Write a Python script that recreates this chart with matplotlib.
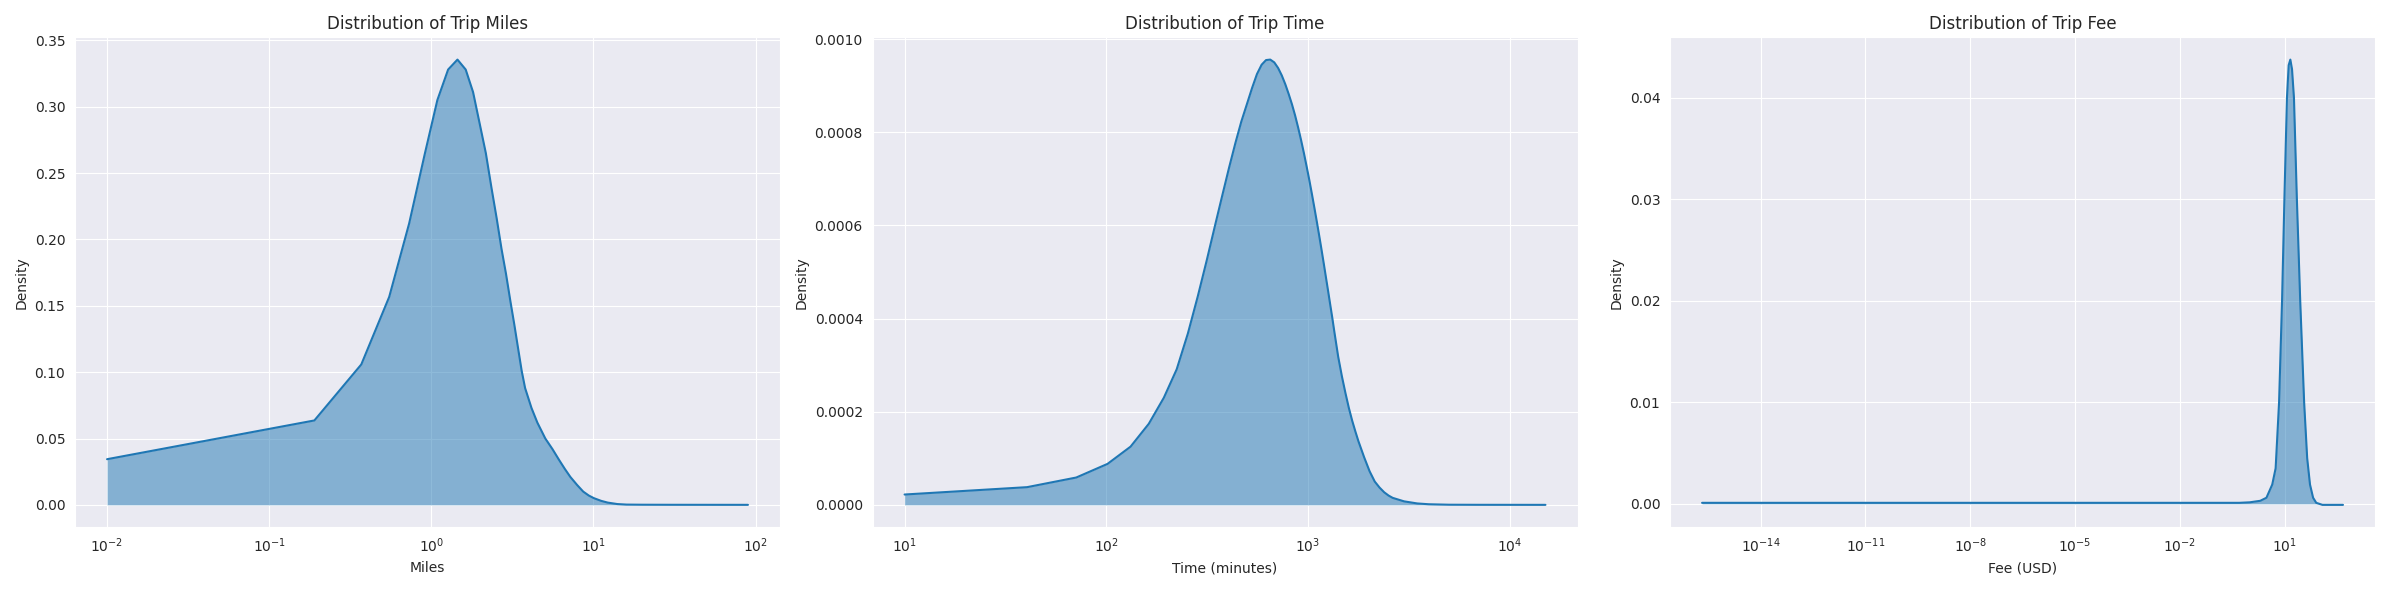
import matplotlib
matplotlib.use("Agg")
import matplotlib.pyplot as plt
import seaborn as sns

# values
miles_x = [0.01, 0.19, 0.37, 0.55, 0.73, 0.91, 1.09, 1.27, 1.45, 1.63, 1.81, 1.99,
           2.17, 2.35, 2.53, 2.71, 2.89, 3.07, 3.25, 3.43, 3.61, 3.79, 4.15, 4.51,
           5.05, 5.59, 6.13, 6.67, 7.21, 7.93, 8.65, 9.37, 10.09, 11.17, 12.25,
           14.05, 16.03, 20.0, 30.0, 50.0, 70.0, 89.8]
miles_y = [0.0344, 0.0636, 0.1058, 0.1567, 0.212, 0.264, 0.305, 0.328, 0.3355, 0.328,
           0.311, 0.287, 0.265, 0.239, 0.216, 0.193, 0.174, 0.154, 0.136, 0.118,
           0.101, 0.088, 0.073, 0.062, 0.050, 0.042, 0.034, 0.027, 0.021, 0.015,
           0.010, 0.007, 0.005, 0.003, 0.0017, 0.0006, 0.0002, 0.0001, 0.00005,
           0.00003, 0.00002, 0.00001]

time_x = [10, 40.5, 71, 101.5, 132, 162.5, 193, 223.5, 254, 284.5, 315, 345.5, 376,
          406.5, 437, 467.5, 498, 528.5, 559, 589.5, 620, 650.5, 681, 711.5, 742,
          772.5, 803, 833.5, 864, 894.5, 925, 955.5, 986, 1016.5, 1047, 1077.5,
          1108, 1138.5, 1169, 1199.5, 1230, 1260.5, 1291, 1321.5, 1352, 1413, 1474,
          1535, 1596, 1657, 1718, 1779, 1901, 2023, 2145, 2267, 2389, 2511, 2633,
          2999, 3487, 3975, 5011, 7000, 10000, 15060]
time_y = [0.0000222, 0.000038, 0.0000587, 0.000088, 0.000125, 0.000174, 0.00023,
          0.000291, 0.000368, 0.000448, 0.000525, 0.000598, 0.000664, 0.000724,
          0.000777, 0.000823, 0.00086, 0.000895, 0.000925, 0.000945, 0.000955,
          0.000956, 0.00095, 0.000938, 0.000922, 0.000903, 0.000882, 0.00086,
          0.000836, 0.00081, 0.000783, 0.000755, 0.000726, 0.000697, 0.000667,
          0.000637, 0.000607, 0.000577, 0.000547, 0.000517, 0.000487, 0.000458,
          0.000429, 0.000401, 0.000372, 0.000318, 0.000276, 0.00024, 0.000208,
          0.000181, 0.000158, 0.000137, 0.000102, 0.000072, 0.00005, 0.000037,
          0.000027, 0.00002, 0.000015, 0.0000075, 0.000003, 0.0000013, 0.0000003,
          0.0000001, 0.00000005, 0.0]

fee_x = [2.1e-16, 1e-2, 0.5, 1.0, 2.0, 3.0, 4.4, 5.5, 6.9, 8.4, 9.8, 11.6, 13.0,
         14.5, 16.2, 18.4, 22.3, 27.8, 36.0, 44.0, 53.0, 65.0, 80.0, 120.0, 200.0,
         465.0]
fee_y = [0.0001, 0.0001, 0.0001, 0.00015, 0.0003, 0.0006, 0.0019, 0.0035, 0.010,
         0.020, 0.030, 0.040, 0.0432, 0.04375, 0.0428, 0.040, 0.030, 0.020, 0.010,
         0.0045, 0.0019, 0.0006, 0.0001, -0.0001, -0.0001, -0.0001]

titles = ['Distribution of Trip Miles', 'Distribution of Trip Time',
          'Distribution of Trip Fee']
xlabels = ['Miles', 'Time (minutes)', 'Fee (USD)']

sns.set_style('darkgrid')

fig, axes = plt.subplots(1, 3, figsize=(23.9, 5.9), dpi=100)
series = [(miles_x, miles_y), (time_x, time_y), (fee_x, fee_y)]

for ax, (xs, ys), title, xlabel in zip(axes, series, titles, xlabels):
    ax.fill_between(xs, ys, color='tab:blue', alpha=0.5, linewidth=0)
    ax.plot(xs, ys, color='tab:blue', linewidth=1.5)
    ax.set_xscale('log')
    ax.set_title(title)
    ax.set_xlabel(xlabel)
    ax.set_ylabel('Density')

plt.tight_layout()
plt.savefig('out.png')
